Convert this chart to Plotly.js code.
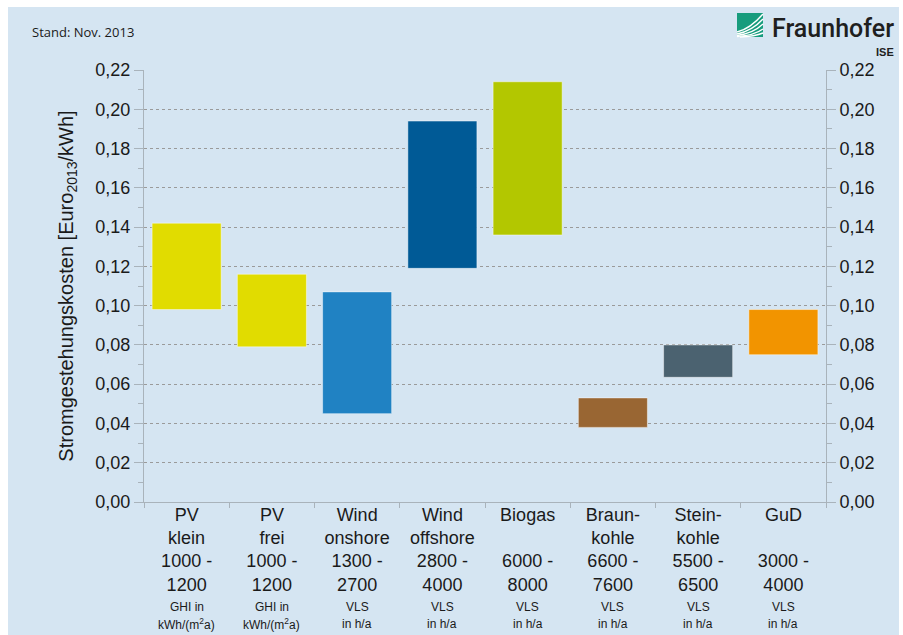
<!DOCTYPE html>
<html>
<head>
<meta charset="utf-8">
<script src="https://cdn.plot.ly/plotly-3.0.1.min.js"></script>
<style>
  html, body { margin: 0; padding: 0; background: #ffffff; }
  #chart { width: 903px; height: 635px; }
</style>
</head>
<body>
<div id="chart"></div>
<script>
// ---- data ----
const categories = [
  'PV<br>klein<br>1000 -<br>1200',
  'PV<br>frei<br>1000 -<br>1200',
  'Wind<br>onshore<br>1300 -<br>2700',
  'Wind<br>offshore<br>2800 -<br>4000',
  'Biogas<br> <br>6000 -<br>8000',
  'Braun-<br>kohle<br>6600 -<br>7600',
  'Stein-<br>kohle<br>5500 -<br>6500',
  'GuD<br> <br>3000 -<br>4000'
];
const lowValues  = [0.098, 0.079, 0.045, 0.119, 0.136, 0.038, 0.0635, 0.075];
const highValues = [0.142, 0.116, 0.107, 0.194, 0.214, 0.053, 0.080, 0.098];
const barColors  = ['#e1dc00', '#e1dc00', '#2082c3', '#005a96', '#b3c700', '#996633', '#4b6270', '#f29400'];
const unitLine1  = ['GHI in', 'GHI in', 'VLS', 'VLS', 'VLS', 'VLS', 'VLS', 'VLS'];
const unitLine2  = ['kWh/(m<sup>2</sup>a)', 'kWh/(m<sup>2</sup>a)', 'in h/a', 'in h/a', 'in h/a', 'in h/a', 'in h/a', 'in h/a'];
const yTickVals  = [0, 0.02, 0.04, 0.06, 0.08, 0.10, 0.12, 0.14, 0.16, 0.18, 0.20, 0.22];

// ---- chart ----
const spans = highValues.map((h, i) => h - lowValues[i]);

const trace = {
  type: 'bar',
  x: categories,
  y: spans,
  base: lowValues,
  marker: { color: barColors, line: { color: 'rgba(255,255,255,0.45)', width: 1 } },
  hoverinfo: 'skip',
  showlegend: false
};

// invisible helper trace so that the right-hand axis is drawn
const rightAxisTrace = {
  type: 'scatter',
  mode: 'markers',
  x: categories,
  y: lowValues,
  yaxis: 'y2',
  marker: { opacity: 0, size: 1 },
  hoverinfo: 'skip',
  showlegend: false
};

const axisGray = '#a9b3bb';
const tickFont = { family: 'Liberation Sans, Arial, sans-serif', size: 18, color: '#1a1a1a' };

const yCommon = {
  range: [0, 0.22],
  autorange: false,
  tickvals: yTickVals,
  tickformat: '.2f',
  ticks: 'outside',
  ticklen: 9,
  tickcolor: axisGray,
  tickwidth: 1,
  minor: { dtick: 0.01, tick0: 0, ticks: 'outside', ticklen: 5, tickcolor: axisGray, tickwidth: 1, showgrid: false },
  showline: true,
  linecolor: axisGray,
  linewidth: 1,
  zeroline: false,
  tickfont: tickFont,
  fixedrange: true
};

const annotations = [];
categories.forEach((c, i) => {
  annotations.push({
    x: c, xref: 'x', y: -0.243, yref: 'paper', yanchor: 'middle', xanchor: 'center',
    text: unitLine1[i], showarrow: false,
    font: { family: 'Liberation Sans, Arial, sans-serif', size: 12, color: '#1a1a1a' }
  });
  annotations.push({
    x: c, xref: 'x', y: -0.2824, yref: 'paper', yanchor: 'middle', xanchor: 'center',
    text: unitLine2[i], showarrow: false,
    font: { family: 'Liberation Sans, Arial, sans-serif', size: 12, color: '#1a1a1a' }
  });
});
annotations.push({
  x: -0.167, xref: 'paper', y: 1.088, yref: 'paper', xanchor: 'left', yanchor: 'middle',
  text: 'Stand: Nov. 2013', showarrow: false,
  font: { family: 'Open Sans, sans-serif', size: 13, color: '#1a1a1a' }
});
annotations.push({
  x: 0.9179, xref: 'paper', y: 1.097, yref: 'paper', xanchor: 'left', yanchor: 'middle',
  text: 'Fraunhofer', showarrow: false,
  font: { family: 'Roboto, Liberation Sans, sans-serif', size: 25, weight: 500, color: '#1f1f1f' }
});
annotations.push({
  x: 1.1026, xref: 'paper', y: 1.0417, yref: 'paper', xanchor: 'right', yanchor: 'middle',
  text: '<b>ISE</b>', showarrow: false,
  font: { family: 'Liberation Sans, Arial, sans-serif', size: 11, color: '#1f1f1f' }
});

// logo icon (pixel-sized relative to top-right corner of plot area)
const logoShapes = [
  { type: 'rect', xref: 'paper', yref: 'paper', xsizemode: 'pixel', ysizemode: 'pixel',
    xanchor: 1, yanchor: 1, x0: -89, x1: -63, y0: 33, y1: 57,
    fillcolor: '#179c7d', line: { width: 0 }, layer: 'above' }
];
const stripes = [
  'M -89 38 Q -76 41 -63 56',
  'M -89 36 Q -74 39 -63 51',
  'M -89 34.5 Q -73 36.5 -63 46',
  'M -89 33.5 Q -72 34.5 -63 41',
  'M -86 33 Q -71 33.5 -63 37'
];
stripes.forEach(p => logoShapes.push({
  type: 'path', xref: 'paper', yref: 'paper', xsizemode: 'pixel', ysizemode: 'pixel',
  xanchor: 1, yanchor: 1, path: p, line: { color: '#ffffff', width: 1.4 }, layer: 'above'
}));

const layout = {
  width: 903,
  height: 635,
  margin: { l: 144, r: 77, t: 70, b: 133 },
  paper_bgcolor: '#ffffff',
  plot_bgcolor: 'rgba(0,0,0,0)',
  separators: ',.',
  bargap: 0.19,
  showlegend: false,
  xaxis: {
    type: 'category',
    tickson: 'boundaries',
    ticks: 'outside',
    ticklen: 5,
    tickcolor: axisGray,
    showline: true,
    linecolor: axisGray,
    linewidth: 1,
    showgrid: false,
    tickangle: 0,
    ticklabelstandoff: -4,
    tickfont: { family: 'Liberation Sans, Arial, sans-serif', size: 18, color: '#1a1a1a' },
    fixedrange: true
  },
  yaxis: Object.assign({}, yCommon, {
    showgrid: true,
    gridcolor: '#9a9a9a',
    gridwidth: 1,
    griddash: '3px,3px',
    title: {
      text: 'Stromgestehungskosten [Euro<sub>2013</sub>/kWh]',
      font: { family: 'Liberation Sans, Arial, sans-serif', size: 20, color: '#1a1a1a' },
      standoff: 16
    }
  }),
  yaxis2: Object.assign({}, yCommon, {
    overlaying: 'y',
    side: 'right',
    anchor: 'x',
    showgrid: false
  }),
  shapes: [
    { type: 'rect', xref: 'paper', yref: 'paper', x0: -0.1994, x1: 1.107, y0: -0.32, y1: 1.146,
      fillcolor: '#d5e5f2', line: { width: 0 }, layer: 'below' }
  ].concat(logoShapes),
  annotations: annotations
};

Plotly.newPlot('chart', [trace, rightAxisTrace], layout, { displayModeBar: false, staticPlot: true });
</script>
</body>
</html>
